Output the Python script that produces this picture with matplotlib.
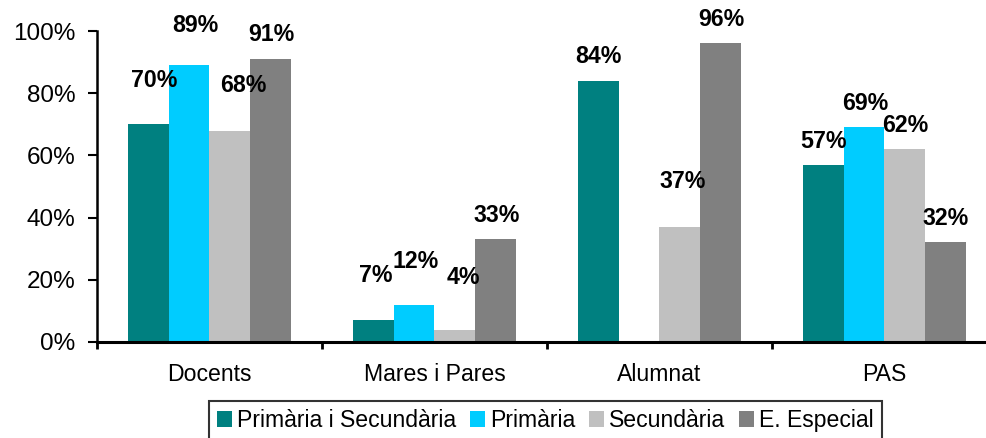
import numpy as np
import matplotlib
matplotlib.use("Agg")
import matplotlib.pyplot as plt

# ---- data ----
categories = ["Docents", "Mares i Pares", "Alumnat", "PAS"]
series_names = ["Primària i Secundària", "Primària", "Secundària", "E. Especial"]
prim_sec = [70, 7, 84, 57]
primaria = [89, 12, np.nan, 69]
secundaria = [68, 4, 37, 62]
especial = [91, 33, 96, 32]
yticks = [0, 20, 40, 60, 80, 100]

# ---- style / layout ----
colors = ["#008080", "#00CCFF", "#C0C0C0", "#808080"]
# label offsets (pixels): horizontal shift and gap above bar top, per series per category
label_dx = [[6, 3, 0, 0], [6, 2, 0, 1], [13, 8, 3, 0], [0, 1, 0, 0]]
label_gap = [[37, 38, 18, 17], [33, 37, 0, 17], [39, 46, 39, 17], [18, 17, 17, 17]]

plt.rcParams["font.family"] = ["Liberation Sans", "DejaVu Sans"]
W, H, DPI = 987, 438, 100
fig = plt.figure(figsize=(W / DPI, H / DPI), dpi=DPI)
ax = fig.add_axes([97 / W, 96 / H, 900 / W, 311 / H])

series = [prim_sec, primaria, secundaria, especial]
x = np.arange(len(categories))
bw = 0.182
px2pt = 72 / DPI
for i, (vals, name, col) in enumerate(zip(series, series_names, colors)):
    pos = x + (i - 1.5) * bw
    ax.bar(pos, vals, width=bw, color=col, label=name, linewidth=0)
    for j, (p, v) in enumerate(zip(pos, vals)):
        if np.isnan(v):
            continue
        ax.annotate(f"{int(v)}%", xy=(p, v), xytext=(label_dx[i][j] * px2pt, label_gap[i][j] * px2pt),
                    textcoords="offset points", ha="center", va="baseline",
                    fontsize=16.7, fontweight="bold", annotation_clip=False, clip_on=False)

ax.set_xlim(-0.5, len(categories) - 0.5)
ax.set_ylim(0, 100)
ax.set_yticks(yticks)
ax.set_yticklabels([f"{t}%" for t in yticks], fontsize=17.5)
ax.set_xticks(x)
ax.set_xticklabels(categories, fontsize=16.6)
ax.set_xticks(np.arange(len(categories) + 1) - 0.5, minor=True)
ax.tick_params(axis="x", which="major", length=0, pad=15)
ax.tick_params(axis="x", which="minor", length=5, width=2, direction="out")
ax.tick_params(axis="y", length=6.5, width=1.5, direction="out", pad=9)
for s in ["top", "right"]:
    ax.spines[s].set_visible(False)
ax.spines["left"].set_linewidth(1.8)
ax.spines["bottom"].set_linewidth(2.2)

leg = fig.legend(loc="upper center", bbox_to_anchor=(545.5 / W, 1 - 401 / H), ncol=4,
                 fontsize=16.6, frameon=True, fancybox=False, edgecolor="black",
                 handlelength=0.65, handleheight=0.65, handletextpad=0.22,
                 columnspacing=0.6, borderpad=0.35, borderaxespad=0)
leg.get_frame().set_linewidth(1.5)

fig.savefig("out.png", dpi=DPI)
